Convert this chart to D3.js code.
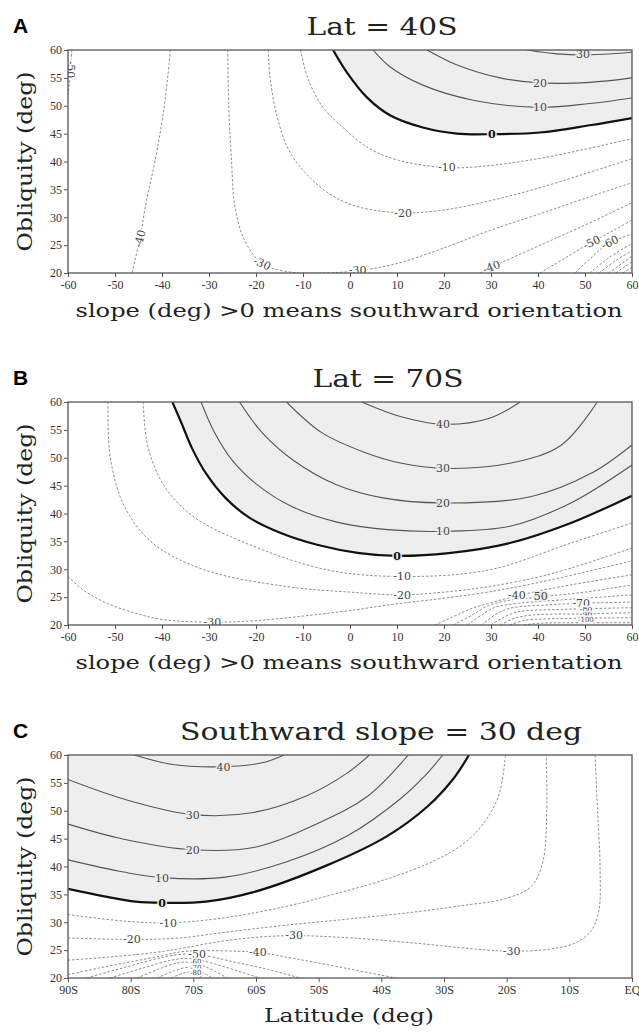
<!DOCTYPE html>
<html>
<head>
<meta charset="utf-8">
<script src="https://cdn.jsdelivr.net/npm/d3@7"></script>
<style>
  body { margin: 0; background: #fff; }
</style>
</head>
<body>
<div id="chart"></div>
<script>
// tick values
const slopeTicks = [-60, -50, -40, -30, -20, -10, 0, 10, 20, 30, 40, 50, 60];
const latTicks = [-90, -80, -70, -60, -50, -40, -30, -20, -10, 0];
const latTickLabels = ["90S", "80S", "70S", "60S", "50S", "40S", "30S", "20S", "10S", "EQ"];
const oblTicks = [20, 25, 30, 35, 40, 45, 50, 55, 60];

// Panel A: Lat = 40S, contours traced as [slope, obliquity]
const contoursA = [
  {level: 0, pts: [[-3.6,60],[-0.6,55.9],[3.6,51.5],[8.5,48.3],[15.5,46.1],[22.8,45],[30.2,44.9],[40.4,45.2],[51,46.5],[60,47.8]]},
  {level: 10, pts: [[4.9,60],[8.5,57],[15.5,53.7],[26.2,51],[40.4,49.7],[51,50.4],[60,51.4]]},
  {level: 20, pts: [[16.4,60],[22.8,57.3],[31.9,55],[40.4,54.1],[51,54.2],[60,55]]},
  {level: 30, pts: [[37.7,60],[44,59.3],[49.6,59.1],[60,59.6]]},
  {level: -10, pts: [[-10.5,60],[-9,55],[-6,50],[-2,46.5],[3.8,42.5],[10,40.3],[20.6,38.9],[30,39.3],[40,40.5],[50,42.2],[60,44.1]]},
  {level: -20, pts: [[-17.4,60],[-17,55],[-15.5,48],[-13,42],[-9,37.5],[-4,34],[2,31.8],[11.3,30.8],[20,31.3],[30,33],[40,35.2],[50,37.8],[60,40.5]]},
  {level: -30, pts: [[-26,60],[-25.8,50],[-25.2,40],[-24.5,32],[-22.5,26],[-18.7,21.7],[-13,20.2],[-6,20],[1.6,20.4],[10,21.7],[20,24.5],[30,27.7],[40,30.5],[50,33.4],[60,36.2]]},
  {level: -40, pts: [[-38.2,60],[-39.5,50],[-41.5,40],[-43.3,33],[-44.7,26.2],[-46.4,20]]},
  {level: -40, pts: [[27.7,20],[30,21],[40,24.8],[50,28.6],[60,32.6]]},
  {level: -50, pts: [[-59.2,60],[-59.4,57],[-59.7,54],[-60,52]]},
  {level: -50, pts: [[40.4,20],[46,22.8],[51.4,25.5],[56,27.6],[60,29.5]]},
  {level: -60, pts: [[47.9,20],[51.5,22.9],[55.3,25.4],[60,27]]},
  {level: -70, pts: [[51,20],[55,22.7],[60,25.3]]},
  {level: -80, pts: [[53,20],[56.5,22.2],[60,24]]},
  {level: -90, pts: [[55,20],[57.5,21.5],[60,23]]},
  {level: -100, pts: [[56.5,20],[60,22]]},
  {level: -110, pts: [[58,20],[60,21]]}
];
const labelsA = [
  ["0", 30.2, 44.9, 0], ["10", 40.4, 49.7, 0], ["20", 40.4, 54.1, 0], ["30", 49.6, 59.2, 0],
  ["-10", 20.6, 38.9, 0], ["-20", 11.3, 30.8, 0], ["-30", -18.7, 21.7, 25], ["-30", 1.6, 20.5, 0],
  ["-40", 30.1, 21.1, -20], ["-40", -44.7, 26.2, -75], ["-50", 51.4, 25.5, -25], ["-60", 55.3, 25.5, -25],
  ["-50", -59.4, 56.5, 90]
];

// Panel B: Lat = 70S
const contoursB = [
  {level: 0, pts: [[-37.8,60],[-36,56.5],[-33.5,51.5],[-30.5,47],[-26.5,42.8],[-21.5,39.3],[-15,36.6],[-7,34.4],[2,32.9],[10,32.4],[21,32.9],[34,34.7],[47,38.3],[60,43.2]]},
  {level: 10, pts: [[-31.7,60],[-28.8,54.5],[-25,49.5],[-19.5,45],[-12.5,41.3],[-3,38.5],[8,37.1],[19.8,36.8],[34,37.7],[47,41.9],[60,48.7]]},
  {level: 20, pts: [[-23.5,60],[-18.7,54.5],[-12,49.5],[-3,45.2],[7,42.8],[19.8,41.9],[38.4,43],[51.3,47.2],[60,52.3]]},
  {level: 30, pts: [[-13.5,60],[-6,54.5],[3,51],[11,49],[19.8,48.1],[34,49],[45,52.3],[52.6,60]]},
  {level: 40, pts: [[2.5,60],[10.7,57.4],[19.8,56],[29.7,57.1],[36.2,60]]},
  {level: -10, pts: [[-44,60],[-43,52],[-39.5,44.9],[-33.4,39.5],[-22.2,34.7],[-4.9,29.9],[11.1,28.7],[29.7,29.9],[47,34.7],[60,38.3]]},
  {level: -20, pts: [[-51.5,60],[-51,50],[-48,41.3],[-42,34.7],[-31,29.9],[-13.5,26.9],[0,25.9],[11.1,25.4],[20,25.9],[29.7,26.9],[40,28.6],[47,30.2],[60,33.8]]},
  {level: -30, pts: [[-60,28.7],[-56.8,26.3],[-52,24],[-46,22.2],[-40,21],[-29.3,20.5],[-20,20.8],[-10,21.6],[0,22.6],[10,23.8],[20,24.8],[30,26],[40,27.6],[50,29.5],[60,31.5]]},
  {level: -40, pts: [[18,20],[22,21.5],[26,23],[30,24],[35.8,25.3],[45,26.9],[60,29]]},
  {level: -50, pts: [[22,20],[26,21.8],[29,23.3],[33,24.3],[40,25],[50,25.9],[60,27.2]]},
  {level: -60, pts: [[25,20],[28,21.8],[31,23.2],[36,23.9],[45,24.5],[60,25.4]]},
  {level: -70, pts: [[28,20],[31,21.9],[34,23],[42,23.6],[49.2,23.9],[60,24.1]]},
  {level: -80, pts: [[30,20],[33,21.5],[36,22.4],[45,22.8],[60,23.1]]},
  {level: -90, pts: [[32,20],[35,21.2],[39,21.8],[50,22],[60,22.2]]},
  {level: -100, pts: [[34,20],[37,20.8],[42,21.1],[60,21.3]]},
  {level: -110, pts: [[37,20],[40,20.3],[50,20.4],[60,20.4]]}
];
const labelsB = [
  ["0", 10, 32.4, 0], ["10", 19.8, 36.8, 0], ["20", 19.8, 41.9, 0], ["30", 19.8, 48.1, 0], ["40", 19.8, 56, 0],
  ["-10", 11.1, 28.7, 0], ["-20", 11.1, 25.4, 0], ["-30", -29.3, 20.6, 0],
  ["-40", 35.5, 25.4, 0], ["50", 40.6, 25.1, 0], ["-70", 49.2, 24, 0],
  ["-80", 50.2, 22.9, 0, 8], ["-90", 50.2, 21.9, 0, 8], ["-100", 50.2, 20.9, 0, 7]
];

// Panel C: southward slope = 30 deg, contours traced as [latitude, obliquity]
const contoursC = [
  {level: 0, pts: [[-90,36],[-84.4,34.7],[-79.2,33.7],[-75,33.5],[-68,33.7],[-60.4,35.4],[-48.7,40.2],[-39,45.5],[-32.5,50.9],[-28.6,55.6],[-26,60]]},
  {level: 10, pts: [[-90,41.2],[-81.1,39],[-75,38],[-64.9,38.1],[-55.2,40.8],[-45.4,45.5],[-37,52.1],[-33.1,56.2],[-30.2,60]]},
  {level: 20, pts: [[-90,47.6],[-81.1,44.9],[-70.1,43],[-60.4,43.4],[-50,47.8],[-42.2,52.6],[-35.7,60]]},
  {level: 30, pts: [[-90,55.6],[-81.1,52.1],[-70.1,49.3],[-60.4,49.7],[-51.9,52.7],[-45.4,56.8],[-41.9,60]]},
  {level: 40, pts: [[-79.4,60],[-73.3,58.3],[-65.2,57.9],[-59,58.6],[-55.5,60]]},
  {level: -10, pts: [[-90,31.4],[-81,30.2],[-74,29.9],[-65,30.8],[-55,32.9],[-47,35.2],[-39,37.8],[-32,40.8],[-27,44],[-23.5,48],[-21.2,53],[-20.2,60]]},
  {level: -20, pts: [[-90,27.2],[-79.8,26.9],[-72,27.2],[-65,28.2],[-55,29.5],[-45,30.6],[-35,31.8],[-27,33],[-20,34.3],[-16,36.5],[-14.2,41],[-13.6,50],[-13.7,60]]},
  {level: -30, pts: [[-90,23.2],[-82,23.9],[-76,24.6],[-72,25.3],[-66,26.5],[-60,27.3],[-53.9,27.6],[-45,27.2],[-35,26.3],[-25,25.2],[-19.2,24.8],[-13,25.2],[-9,26.3],[-6.5,28.5],[-5.3,32],[-5.1,40],[-5.5,50],[-5.9,60]]},
  {level: -40, pts: [[-90,20.6],[-85,21.8],[-80,22.9],[-75,24],[-72,24.7],[-68,24.9],[-63,24.8],[-59.7,24.6],[-53,23.3],[-45,21.6],[-37.7,20]]},
  {level: -50, pts: [[-87,20],[-80,22.2],[-74.5,23.8],[-71,24.3],[-68.5,24.1],[-64,23],[-58,21.5],[-53,20]]},
  {level: -60, pts: [[-83.3,20],[-78,21.8],[-73.5,23.2],[-71,23.5],[-69,23.2],[-65,22],[-59.4,20]]},
  {level: -70, pts: [[-79,20],[-75.5,21.6],[-72.5,22.7],[-70.5,22.8],[-68,22],[-64.6,20]]},
  {level: -80, pts: [[-75.8,20],[-73,21.3],[-71,21.9],[-69.5,21.6],[-67,20]]},
  {level: -90, pts: [[-73.5,20],[-71.5,20.9],[-70,21],[-68.5,20]]}
];
const labelsC = [
  ["0", -75, 33.5, 0], ["10", -75, 38, 0], ["20", -70.1, 43, 0], ["30", -70.1, 49.3, 0], ["40", -65.2, 57.9, 0],
  ["-10", -74, 29.9, 0], ["-20", -79.8, 26.9, 0], ["-30", -53.9, 27.6, 0], ["-30", -19.2, 24.8, 0],
  ["-40", -59.7, 24.7, 0], ["-50", -69.4, 24.2, 0],
  ["-60", -69.6, 22.9, 0, 7], ["-70", -69.6, 21.9, 0, 7], ["-80", -69.6, 20.9, 0, 7]
];

const width = 639, height = 1035;
const plotLeft = 68, plotRight = 632, plotH = 223;
const shade = "#eeeeee";

const svg = d3.select("#chart")
  .append("svg")
  .attr("width", width)
  .attr("height", height)
  .style("font-family", "'DejaVu Serif', serif");

function drawPanel(p) {
  const x = d3.scaleLinear().domain(p.xDomain).range([plotLeft, plotRight]);
  const y = d3.scaleLinear().domain([20, 60]).range([p.top + plotH, p.top]);
  const g = svg.append("g");

  g.append("clipPath").attr("id", "clip" + p.letter)
    .append("rect")
    .attr("x", plotLeft).attr("y", p.top)
    .attr("width", plotRight - plotLeft).attr("height", plotH);

  const inner = g.append("g").attr("clip-path", `url(#clip${p.letter})`);

  const line = d3.line()
    .x(d => x(d[0]))
    .y(d => y(d[1]))
    .curve(d3.curveCatmullRom.alpha(0.5));

  // shaded area where the value is positive
  const zero = p.contours.find(c => c.level === 0);
  const shadePath = line(zero.pts) +
    p.corners.map(c => `L${x(c[0])},${y(c[1])}`).join("") + "Z";
  inner.append("path")
    .attr("d", shadePath)
    .attr("fill", shade);

  // contour lines
  inner.selectAll("path.contour")
    .data(p.contours)
    .join("path")
    .attr("class", "contour")
    .attr("d", d => line(d.pts))
    .attr("fill", "none")
    .attr("stroke", d => d.level === 0 ? "#111" : d.level > 0 ? "#555" : "#808080")
    .attr("stroke-width", d => d.level === 0 ? 2.2 : d.level > 0 ? 1.1 : 0.9)
    .attr("stroke-dasharray", d => d.level < 0 ? "2.5,1.8" : null);

  // contour labels
  inner.selectAll("text.clab")
    .data(p.labels)
    .join("text")
    .attr("class", "clab")
    .attr("transform", d => `translate(${x(d[1])},${y(d[2])}) rotate(${d[3]})`)
    .attr("dy", "0.35em")
    .attr("text-anchor", "middle")
    .style("font-size", d => (d[4] || 11) + "px")
    .style("font-weight", d => d[0] === "0" ? "bold" : "normal")
    .attr("fill", d => d[0] === "0" ? "#111" : "#444")
    .attr("stroke", d => d[0].startsWith("-") ? "#fff" : shade)
    .attr("stroke-width", 3)
    .attr("paint-order", "stroke")
    .text(d => d[0]);

  // axes
  const xAxis = g.append("g")
    .attr("transform", `translate(0,${p.top + plotH})`)
    .call(d3.axisBottom(x).tickValues(p.xTicks).tickSize(4).tickPadding(3)
      .tickFormat((d, i) => p.xTickLabels ? p.xTickLabels[i] : String(d)));
  xAxis.select(".domain").remove();
  xAxis.selectAll("text").attr("fill", "#333")
    .style("font-family", "'Liberation Serif', serif").style("font-size", "12px");
  xAxis.selectAll("line").attr("stroke", "#555");

  const yAxis = g.append("g")
    .attr("transform", `translate(${plotLeft},0)`)
    .call(d3.axisLeft(y).tickValues(oblTicks).tickSize(4).tickPadding(2)
      .tickFormat(d => String(d)));
  yAxis.select(".domain").remove();
  yAxis.selectAll("text").attr("fill", "#333")
    .style("font-family", "'Liberation Serif', serif").style("font-size", "12px");
  yAxis.selectAll("line").attr("stroke", "#555");

  // frame
  g.append("rect")
    .attr("x", plotLeft).attr("y", p.top)
    .attr("width", plotRight - plotLeft).attr("height", plotH)
    .attr("fill", "none")
    .attr("stroke", "#555")
    .attr("stroke-width", 1.3);

  // panel letter
  g.append("text")
    .attr("x", 13).attr("y", p.top - 17)
    .style("font-family", "'Liberation Sans', Arial, sans-serif")
    .style("font-weight", "bold")
    .style("font-size", "21px")
    .text(p.letter);

  // title
  g.append("text")
    .attr("x", p.titleX).attr("y", p.top - 15)
    .attr("text-anchor", "middle")
    .attr("textLength", p.titleW)
    .attr("lengthAdjust", "spacingAndGlyphs")
    .style("font-size", "25px")
    .attr("fill", "#222")
    .text(p.title);

  // y label
  g.append("text")
    .attr("transform", `translate(32,${p.top + plotH / 2}) rotate(-90)`)
    .attr("text-anchor", "middle")
    .attr("textLength", 180)
    .attr("lengthAdjust", "spacingAndGlyphs")
    .style("font-size", "21px")
    .attr("fill", "#222")
    .text("Obliquity (deg)");

  // x label
  g.append("text")
    .attr("x", 349).attr("y", p.top + plotH + 44)
    .attr("text-anchor", "middle")
    .attr("textLength", p.xlabelW)
    .attr("lengthAdjust", "spacingAndGlyphs")
    .style("font-size", "19px")
    .attr("fill", "#222")
    .text(p.xlabel);
}

drawPanel({
  letter: "A", top: 50, xDomain: [-60, 60], xTicks: slopeTicks, xTickLabels: null,
  contours: contoursA, labels: labelsA, corners: [[60, 60]],
  title: "Lat = 40S", titleX: 382, titleW: 151,
  xlabel: "slope (deg) >0 means southward orientation", xlabelW: 547
});

drawPanel({
  letter: "B", top: 402, xDomain: [-60, 60], xTicks: slopeTicks, xTickLabels: null,
  contours: contoursB, labels: labelsB, corners: [[60, 60]],
  title: "Lat = 70S", titleX: 388, titleW: 151,
  xlabel: "slope (deg) >0 means southward orientation", xlabelW: 547
});

drawPanel({
  letter: "C", top: 755, xDomain: [-90, 0], xTicks: latTicks, xTickLabels: latTickLabels,
  contours: contoursC, labels: labelsC, corners: [[-90, 60]],
  title: "Southward slope = 30 deg", titleX: 381, titleW: 402,
  xlabel: "Latitude (deg)", xlabelW: 170
});
</script>
</body>
</html>
